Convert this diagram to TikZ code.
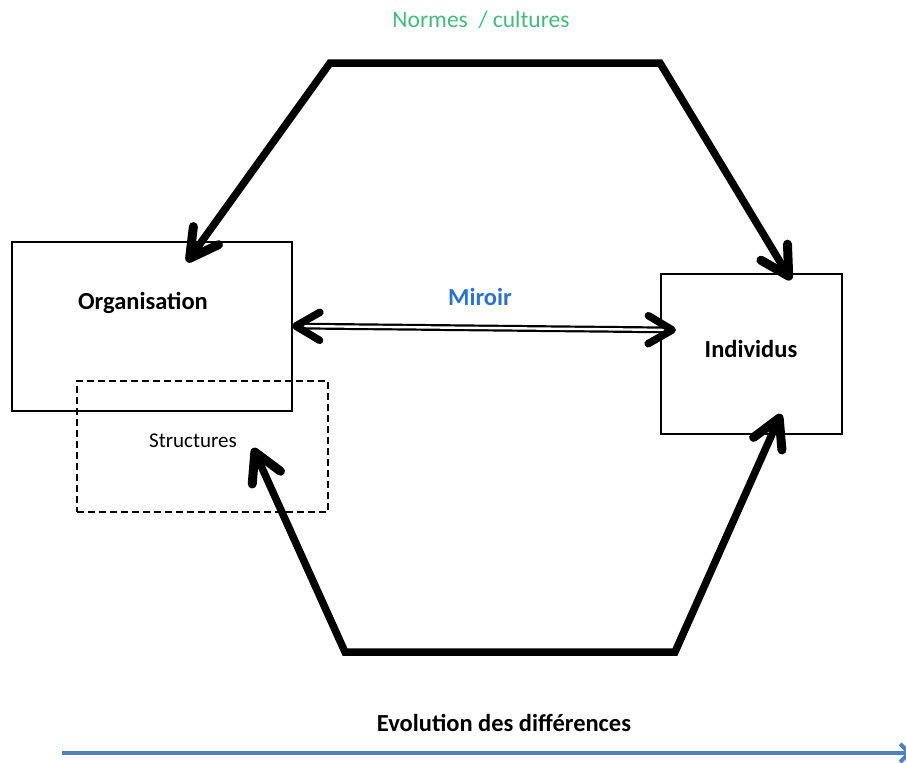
\documentclass[tikz,border=0pt]{standalone}
\usepackage{fontspec}
\setmainfont{Carlito}
\usetikzlibrary{arrows.meta}
\definecolor{normgreen}{RGB}{70,185,125}
\definecolor{mirblue}{RGB}{45,115,200}
\definecolor{evoblue}{RGB}{79,129,189}
\tikzset{
  barbtip/.tip={Straight Barb[length=28pt,width=31pt,line width=9pt,round]},
  mirtip/.tip={Straight Barb[length=24pt,width=28pt,line width=7.5pt,round]}
}
\begin{document}
\begin{tikzpicture}[x=1pt,y=-1pt,
  box/.style={draw,line width=1.8pt,inner sep=0pt},
  bigflow/.style={line width=7.5pt,line join=miter,barbtip-barbtip},
  lbl/.style={font=\bfseries\fontsize{24.5}{28}\selectfont}]
\useasboundingbox (0,0) rectangle (906,763);
% boxes
\node[box,minimum width=280pt,minimum height=169pt] (org) at (152,326.5) {};
\node[box,minimum width=181pt,minimum height=160pt] (ind) at (751.5,354) {};
\node[draw,dashed,line width=1.8pt,dash pattern=on 7pt off 4pt,minimum width=251pt,minimum height=131pt,inner sep=0pt] (str) at (202.5,446.5) {};
% labels
\node[lbl] (orgt) at (143,303) {Organisation};
\node[lbl] (indt) at (751,349) {Individus};
\node[font=\fontsize{21}{24}\selectfont] (strt) at (193,441) {Structures};
\node[lbl,text=mirblue] (mir) at (480,297) {Miroir};
\node[font=\fontsize{23.5}{27}\selectfont,text=normgreen] (norm) at (481,20) {Normes~ / cultures};
\node[lbl] (evo) at (504,723) {Evolution des différences};
% anchor points of the flows
\coordinate (orgin) at (187,262);
\coordinate (indin) at (791,280);
\coordinate (strin) at (253,448);
\coordinate (indlow) at (781,414);
\coordinate (mirl) at (292,326);
\coordinate (mirr) at (676,330);
\coordinate (evol) at (62,753);
\coordinate (evor) at (912,753);
% norms loop over the top
\draw[bigflow] (orgin) -- (330,63) -- (660,63) -- (indin);
% structures loop underneath
\draw[bigflow] (strin) -- (345,652) -- (675,652) -- (indlow);
% mirror link
\draw[line width=2.2pt,double=white,double distance=2.4pt,mirtip-mirtip] (mirl) -- (mirr);
% evolution axis
\draw[evoblue,line width=4pt,-{Straight Barb[length=9pt,width=18pt,line width=4pt]}] (evol) -- (evor);
\end{tikzpicture}
\end{document}
